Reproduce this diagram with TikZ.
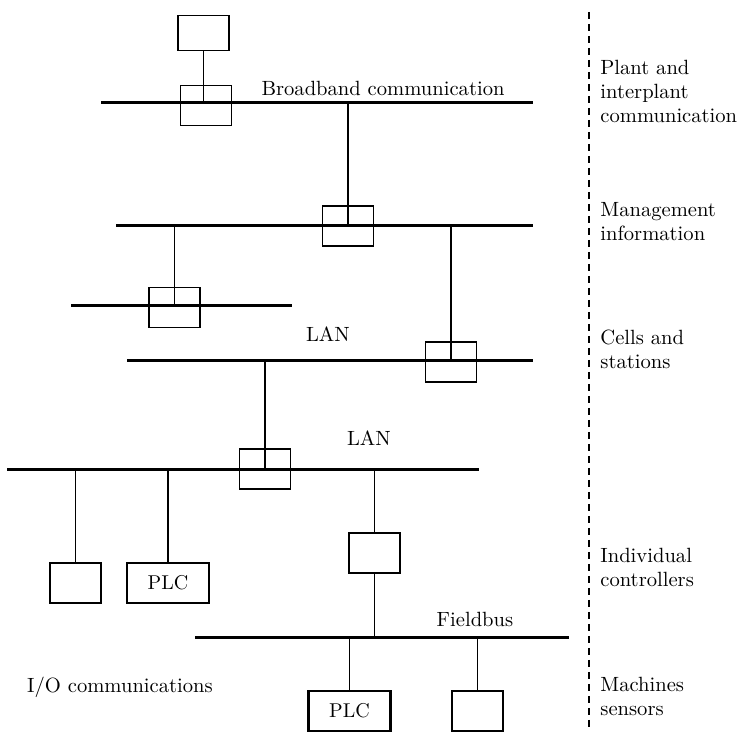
\documentclass[tikz,border=0pt]{standalone}
\usepackage{tikz}
\usetikzlibrary{positioning,calc}

\begin{document}
\begin{tikzpicture}[x=0.5pt,y=-0.5pt,
    bus/.style={line width=1.5pt},
    link/.style={line width=0.65pt},
    unit/.style={draw,line width=0.65pt,inner sep=0pt,minimum width=25.5pt,minimum height=20pt},
    plc/.style={unit,minimum width=41pt},
    lbl/.style={font=\fontsize{10.3}{12}\selectfont},
    level/.style={lbl,anchor=west,align=left,inner sep=0pt}]
  \useasboundingbox (0,0) rectangle (741,733);

  \foreach \name/\xa/\xb/\y in {b1/101/533/102.5, b2/116/533/225.7, b3/71/292/305.7,
      b4/127/533/360.7, b5/7/479/469.3, fb/195/569/637.7}{
    \coordinate (\name w) at (\xa,\y);
    \coordinate (\name e) at (\xb,\y);
    \draw[bus] (\name w) -- (\name e);
  }

  \node[unit,minimum height=17.5pt] (host) at (203.5,33) {};
  \node[unit] (gw1) at (206,105.5) {};
  \node[unit] (gw2) at (348,226) {};
  \node[unit] (gw3) at (174.5,307.5) {};
  \node[unit] (gw4) at (451,362) {};
  \node[unit] (gw5) at (265,469) {};
  \node[unit] (ctl1) at (75.5,583) {};
  \node[plc] (plc1) at (168,583) {PLC};
  \node[unit] (ctl2) at (374.5,553) {};
  \node[plc,line width=1.3pt] (plc2) at (349.5,711) {PLC};
  \node[unit] (dev) at (477.5,711) {};

  \draw[link] (host.south) -- (host.south |- b1w);
  \draw[link] (gw2 |- b1w) -- (gw2 |- b2w);
  \draw[link] (gw3 |- b2w) -- (gw3 |- b3w);
  \draw[link] (gw4 |- b2w) -- (gw4 |- b4w);
  \draw[link] (gw5 |- b4w) -- (gw5 |- b5w);
  \draw[link] (ctl1 |- b5w) -- (ctl1.north);
  \draw[link] (plc1 |- b5w) -- (plc1.north);
  \draw[link] (ctl2 |- b5w) -- (ctl2.north);
  \draw[link] (ctl2.south) -- (ctl2 |- fbw);
  \draw[link] (plc2 |- fbw) -- (plc2.north);
  \draw[link] (dev |- fbw) -- (dev.north);

  \node[lbl] (bbc) at (383,88) {Broadband communication};
  \node[lbl] (lan1) at (328,334) {LAN};
  \node[lbl] (lan2) at (369,438) {LAN};
  \node[lbl] (fbl) at (475,619) {Fieldbus};
  \node[lbl] (io) at (120,687) {I/O communications};

  \coordinate (divtop) at (589,12);
  \coordinate (divbot) at (589,728);
  \draw[link,dash pattern=on 3.5pt off 2.5pt] (divtop) -- (divbot);

  \foreach \y/\txt [count=\i] in {91/{Plant and\\interplant\\communication},
      222/{Management\\information}, 349/{Cells and\\stations},
      567/{Individual\\controllers}, 696/{Machines\\sensors}}{
    \node[level] (lvl\i) at (600,\y) {\txt};
  }
\end{tikzpicture}
\end{document}
